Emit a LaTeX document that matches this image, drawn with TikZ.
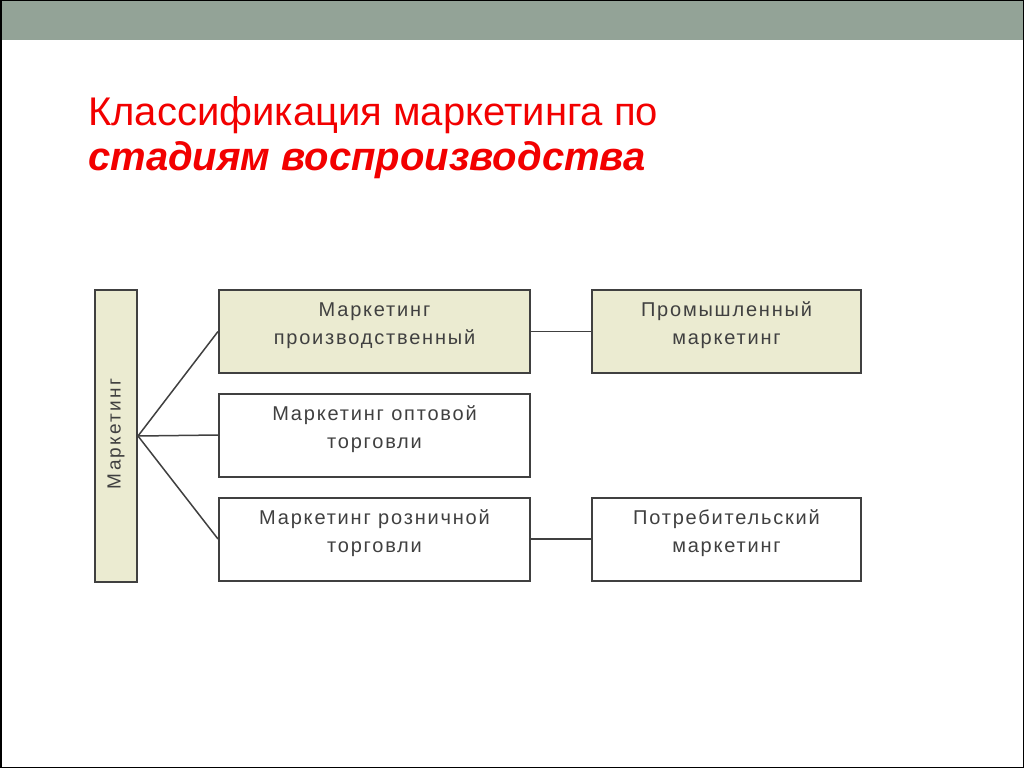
\documentclass[tikz,border=0pt]{standalone}
\usepackage{fontspec}
\setmainfont{Liberation Sans}
\newfontfamily\boxfont[LetterSpace=9]{Liberation Sans}
\newfontfamily\sidefont[LetterSpace=12]{Liberation Sans}
\definecolor{banner}{HTML}{93A397}
\definecolor{beige}{HTML}{EBEBD1}
\definecolor{boxline}{HTML}{404040}
\definecolor{titlered}{HTML}{F20000}
\tikzset{
  box/.style={draw=boxline, line width=2pt, minimum width=#1, minimum height=83pt, inner sep=0pt},
  boxtext/.style={inner sep=0pt, align=center, font=\boxfont\fontsize{20}{28}\selectfont, text=boxline},
  link/.style={draw=boxline, line width=1.5pt}
}
\begin{document}
\begin{tikzpicture}[x=1pt,y=-1pt]
\useasboundingbox (0,0) rectangle (1024,768);
\fill[white] (0,0) rectangle (1024,768);
\fill[banner] (0,0) rectangle (1024,40);
\draw[black, line width=1.5pt] (0.75,0.75) rectangle (1023.25,767.25);
\node[anchor=base west, inner sep=0pt, text=titlered, font=\fontsize{40}{44}\selectfont] (t1) at (88,125) {Классификация маркетинга по};
\node[anchor=base west, inner sep=0pt, text=titlered, font=\fontsize{40}{44}\selectfont\bfseries\itshape] (t2) at (88,170) {стадиям воспроизводства};
\node[box=42pt, minimum height=292pt, fill=beige] (m) at (116,436) {};
\node[rotate=90, inner sep=0pt, text=boxline, font=\sidefont\fontsize{19}{20}\selectfont] (ml) at (116,434) {Маркетинг};
\node[box=311pt, fill=beige] (b1) at (374.5,331.5) {};
\node[box=311pt, fill=white] (b2) at (374.5,435) {};
\node[box=311pt, fill=white] (b3) at (374.5,539) {};
\node[box=269pt, fill=beige] (b4) at (726.5,331.5) {};
\node[box=269pt, fill=white] (b5) at (726.5,539) {};
\node[boxtext] (b1t) at ([yshift=6pt]b1.center) {Маркетинг\\производственный};
\node[boxtext] (b2t) at ([yshift=6pt]b2.center) {Маркетинг оптовой\\торговли};
\node[boxtext] (b3t) at ([yshift=6pt]b3.center) {Маркетинг розничной\\торговли};
\node[boxtext] (b4t) at ([yshift=6pt]b4.center) {Промышленный\\маркетинг};
\node[boxtext] (b5t) at ([yshift=6pt]b5.center) {Потребительский\\маркетинг};
\coordinate (hub) at (m.east);
\draw[link] (hub) -- (b1.west);
\draw[link] (hub) -- (b2.west);
\draw[link] (hub) -- (b3.west);
\draw[link] (b1.east) -- (b4.west);
\draw[link] (b3.east) -- (b5.west);
\end{tikzpicture}
\end{document}
